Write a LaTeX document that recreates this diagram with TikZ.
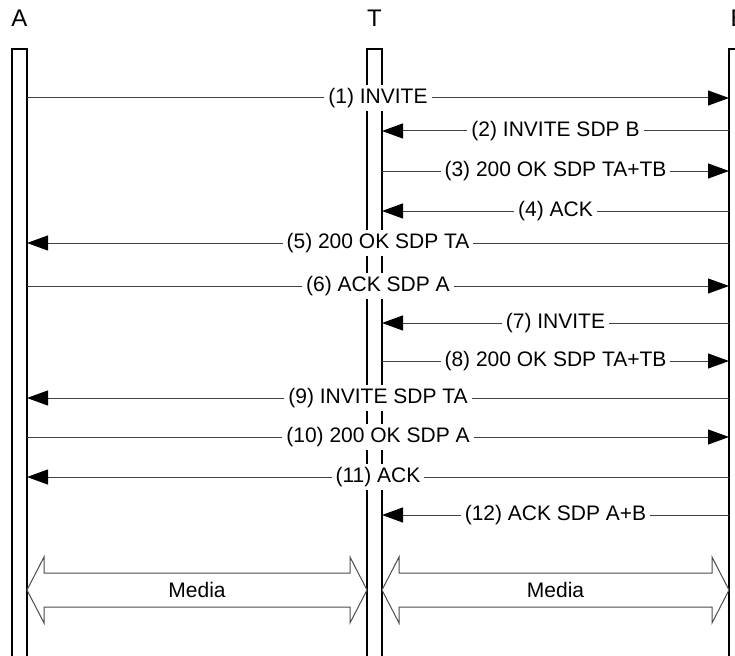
\documentclass[tikz,border=0pt]{standalone}
\usepackage{fontspec}
\setmainfont{Liberation Sans}
\usetikzlibrary{arrows.meta}
\begin{document}
\begin{tikzpicture}[x=1pt,y=-1pt,
  life/.style={line width=1.5pt, draw=black},
  msg/.style={line width=1pt, draw=black!75, -{Triangle[length=21pt,width=15pt,fill=black,color=black]}},
  lbl/.style={fill=white, inner xsep=4pt, inner ysep=3pt, text=black, font=\fontsize{21}{24}\selectfont},
  head/.style={font=\fontsize{24}{28}\selectfont},
  media/.style={line width=1pt, draw=black!70, fill=white}]
\useasboundingbox (0,0) rectangle (735,655);
\clip (0,0) rectangle (735,655);
% headers
\node[head] (hA) at (19.5,18) {A};
\node[head] (hT) at (374.5,18) {T};
\node[head] (hB) at (738.5,18) {B};
% lifelines
\draw[life] (12,660) -- (12,49) -- (27,49) -- (27,660);
\draw[life] (367,660) -- (367,49) -- (382,49) -- (382,660);
\draw[life] (729,660) -- (729,49) -- (744,49) -- (744,660);
% message end points
\foreach \i/\y in {1/98,2/131,3/171,4/211,5/243,6/286,7/323,8/361,9/398,10/437,11/477,12/515}{
  \coordinate (a\i) at (27,\y);
  \coordinate (t\i) at (382,\y);
  \coordinate (b\i) at (729,\y);
}
\draw[msg] (a1) -- node[lbl]{(1) INVITE} (b1);
\draw[msg] (b2) -- node[lbl]{(2) INVITE SDP B} (t2);
\draw[msg] (t3) -- node[lbl]{(3) 200 OK SDP TA+TB} (b3);
\draw[msg] (b4) -- node[lbl]{(4) ACK} (t4);
\draw[msg] (b5) -- node[lbl]{(5) 200 OK SDP TA} (a5);
\draw[msg] (a6) -- node[lbl]{(6) ACK SDP A} (b6);
\draw[msg] (b7) -- node[lbl]{(7) INVITE} (t7);
\draw[msg] (t8) -- node[lbl]{(8) 200 OK SDP TA+TB} (b8);
\draw[msg] (b9) -- node[lbl]{(9) INVITE SDP TA} (a9);
\draw[msg] (a10) -- node[lbl]{(10) 200 OK SDP A} (b10);
\draw[msg] (b11) -- node[lbl]{(11) ACK} (a11);
\draw[msg] (b12) -- node[lbl]{(12) ACK SDP A+B} (t12);
% media arrows
\def\c{590}
\draw[media] (27,\c) -- (44,\c-33) -- (44,\c-17) -- (350,\c-17) -- (350,\c-33) -- (367,\c)
  -- (350,\c+33) -- (350,\c+17) -- (44,\c+17) -- (44,\c+33) -- cycle;
\draw[media] (382,\c) -- (399,\c-33) -- (399,\c-17) -- (712,\c-17) -- (712,\c-33) -- (729,\c)
  -- (712,\c+33) -- (712,\c+17) -- (399,\c+17) -- (399,\c+33) -- cycle;
\node[lbl, fill=none] (m1) at (197,\c) {Media};
\node[lbl, fill=none] (m2) at (555.5,\c) {Media};
\end{tikzpicture}
\end{document}
